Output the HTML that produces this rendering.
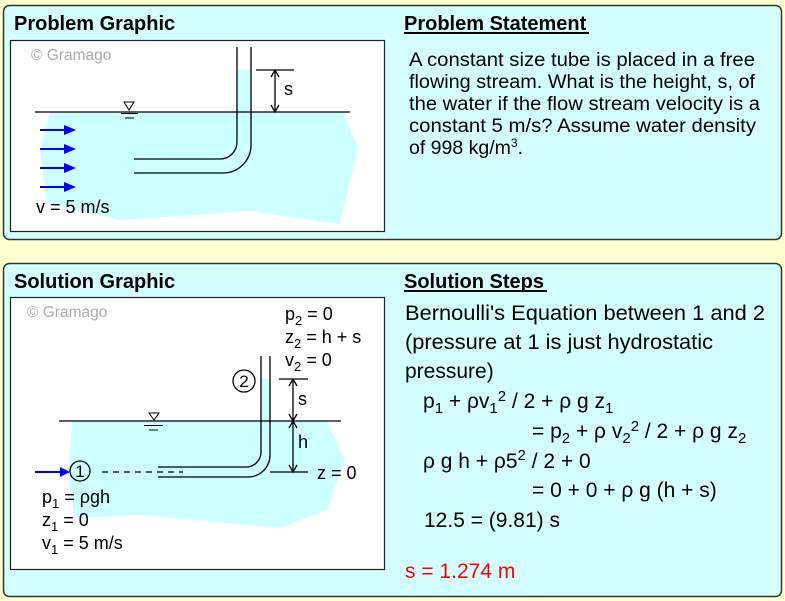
<!DOCTYPE html>
<html><head><meta charset="utf-8"><style>
body{margin:0;background:#ffffd0;}
svg{display:block;font-family:"Liberation Sans",sans-serif;}
</style></head><body>
<svg width="785" height="601" viewBox="0 0 785 601">
<rect x="0" y="0" width="785" height="601" fill="#ffffd0"/>
<rect x="3.5" y="5.5" width="778" height="234" rx="6" fill="#d4ffff" stroke="#333" stroke-width="1.5"/>
<rect x="3.5" y="263.5" width="778" height="333" rx="6" fill="#d4ffff" stroke="#333" stroke-width="1.5"/>
<text x="14" y="30" font-size="20" font-weight="bold">Problem Graphic</text>
<text x="404" y="30" font-size="20" font-weight="bold">Problem Statement</text>
<line x1="404" y1="33" x2="589" y2="33" stroke="#000" stroke-width="2"/>
<text x="14" y="288" font-size="20" font-weight="bold">Solution Graphic</text>
<text x="404" y="288" font-size="20" font-weight="bold">Solution Steps</text>
<line x1="404" y1="291" x2="547" y2="291" stroke="#000" stroke-width="2"/>

<!-- Problem graphic -->
<rect x="10.5" y="40.5" width="374" height="191" fill="#fff" stroke="#222" stroke-width="1.2"/>
<polygon points="50,112 343,112 358,148 340,224 250,211 120,220 47,204 40,150" fill="#ccffff"/>
<rect x="237" y="70" width="14" height="45" fill="#ccffff"/>
<text x="31" y="60" font-size="15.5" fill="#aaa">© Gramago</text>
<line x1="35" y1="112" x2="350" y2="112" stroke="#000" stroke-width="1.2"/>
<polygon points="124,102 134,102 129,110" fill="none" stroke="#000"/>
<line x1="121" y1="113.5" x2="138" y2="113.5" stroke="#000"/>
<line x1="125" y1="118" x2="134" y2="118" stroke="#000"/>
<path d="M237,47 V142 A17,17 0 0 1 220,159 H134" fill="none" stroke="#000" stroke-width="1.3"/>
<path d="M251,47 V145 A28,28 0 0 1 223,173 H134" fill="none" stroke="#000" stroke-width="1.3"/>
<line x1="256" y1="70" x2="294" y2="70" stroke="#000" stroke-width="1.3"/>
<line x1="275" y1="71" x2="275" y2="111" stroke="#000" stroke-width="1.3"/>
<path d="M271,77 L275,70 L279,77 M271,105 L275,112 L279,105" fill="none" stroke="#000" stroke-width="1.3"/>
<text x="284" y="95" font-size="18">s</text>
<g stroke="#00f" stroke-width="2" fill="#00f">
<line x1="40" y1="130" x2="66" y2="130"/><polygon points="64,125 76,130 64,135" stroke="none"/>
<line x1="40" y1="149" x2="66" y2="149"/><polygon points="64,144 76,149 64,154" stroke="none"/>
<line x1="40" y1="168" x2="66" y2="168"/><polygon points="64,163 76,168 64,173" stroke="none"/>
<line x1="40" y1="187" x2="66" y2="187"/><polygon points="64,182 76,187 64,192" stroke="none"/>
</g>
<text x="36" y="213" font-size="18">v = 5 m/s</text>

<!-- Problem statement -->
<g font-size="19">
<text x="409" y="66" textLength="346" lengthAdjust="spacingAndGlyphs">A constant size tube is placed in a free</text>
<text x="409" y="88" textLength="346" lengthAdjust="spacingAndGlyphs">flowing stream. What is the height, s, of</text>
<text x="409" y="110" textLength="351" lengthAdjust="spacingAndGlyphs">the water if the flow stream velocity is a</text>
<text x="409" y="132" textLength="347" lengthAdjust="spacingAndGlyphs">constant 5 m/s? Assume water density</text>
<text x="409" y="154" font-size="19.5">of 998 kg/m<tspan font-size="12" dy="-7">3</tspan><tspan dy="7">.</tspan></text>
</g>

<!-- Solution graphic -->
<rect x="10.5" y="297.5" width="374" height="272" fill="#fff" stroke="#222" stroke-width="1.2"/>
<polygon points="72,421 327,421 345,460 327,510 280,528 145,515 75,518 68,480" fill="#ccffff"/>
<rect x="261" y="379" width="9" height="45" fill="#ccffff"/>
<text x="27" y="317" font-size="15.5" fill="#aaa">© Gramago</text>
<line x1="59" y1="421" x2="341" y2="421" stroke="#000" stroke-width="1.2"/>
<polygon points="149,413 159,413 154,420" fill="none" stroke="#000"/>
<line x1="144" y1="425.5" x2="163" y2="425.5" stroke="#000"/>
<line x1="149" y1="430" x2="158" y2="430" stroke="#000"/>
<path d="M261,356 V452 A15,15 0 0 1 246,467 H158" fill="none" stroke="#000" stroke-width="1.3"/>
<path d="M270,356 V455 A22,22 0 0 1 248,477 H158" fill="none" stroke="#000" stroke-width="1.3"/>
<line x1="279" y1="379" x2="308" y2="379" stroke="#000" stroke-width="1.3"/>
<line x1="270" y1="472" x2="308" y2="472" stroke="#000" stroke-width="1.3"/>
<line x1="293" y1="380" x2="293" y2="471" stroke="#000" stroke-width="1.3"/>
<path d="M289,386 L293,379 L297,386 M289,414 L293,421 L297,414 M289,428 L293,421 L297,428 M289,465 L293,472 L297,465" fill="none" stroke="#000" stroke-width="1.3"/>
<text x="298" y="405" font-size="18">s</text>
<text x="298" y="448" font-size="18">h</text>
<text x="317" y="479" font-size="18">z = 0</text>
<line x1="102" y1="472" x2="183" y2="472" stroke="#000" stroke-width="1.3" stroke-dasharray="6,5"/>
<circle cx="80" cy="471" r="10" fill="none" stroke="#000" stroke-width="1.3"/>
<text x="80" y="477" font-size="17" text-anchor="middle">1</text>
<circle cx="244" cy="381" r="11" fill="none" stroke="#000" stroke-width="1.3"/>
<text x="244" y="387" font-size="17" text-anchor="middle">2</text>
<line x1="35" y1="472" x2="62" y2="472" stroke="#00f" stroke-width="2"/>
<polygon points="60,467 70,472 60,477" fill="#00f"/>
<g font-size="18">
<text x="285" y="320">p<tspan font-size="13" dy="5">2</tspan><tspan dy="-5"> = 0</tspan></text>
<text x="285" y="343">z<tspan font-size="13" dy="5">2</tspan><tspan dy="-5"> = h + s</tspan></text>
<text x="285" y="366">v<tspan font-size="13" dy="5">2</tspan><tspan dy="-5"> = 0</tspan></text>
<text x="42" y="503">p<tspan font-size="13" dy="5">1</tspan><tspan dy="-5"> = ρgh</tspan></text>
<text x="42" y="526">z<tspan font-size="13" dy="5">1</tspan><tspan dy="-5"> = 0</tspan></text>
<text x="42" y="549">v<tspan font-size="13" dy="5">1</tspan><tspan dy="-5"> = 5 m/s</tspan></text>
</g>

<!-- Solution steps -->
<g font-size="21">
<text x="405" y="320" textLength="360" lengthAdjust="spacingAndGlyphs">Bernoulli's Equation between 1 and 2</text>
<text x="405" y="349" textLength="308" lengthAdjust="spacingAndGlyphs">(pressure at 1 is just hydrostatic</text>
<text x="405" y="378">pressure)</text>
<text x="423" y="408">p<tspan font-size="15" dy="5">1</tspan><tspan dy="-5"> + ρv</tspan><tspan font-size="15" dy="5">1</tspan><tspan font-size="15" dy="-12">2</tspan><tspan dy="7"> / 2 + ρ g z</tspan><tspan font-size="15" dy="5">1</tspan></text>
<text x="532" y="438">= p<tspan font-size="15" dy="5">2</tspan><tspan dy="-5"> + ρ v</tspan><tspan font-size="15" dy="5">2</tspan><tspan font-size="15" dy="-12">2</tspan><tspan dy="7"> / 2 + ρ g z</tspan><tspan font-size="15" dy="5">2</tspan></text>
<text x="423" y="468">ρ g h + ρ5<tspan font-size="15" dy="-8">2</tspan><tspan dy="8"> / 2 + 0</tspan></text>
<text x="532" y="497">= 0 + 0 + ρ g (h + s)</text>
<text x="424" y="527">12.5 = (9.81) s</text>
<text x="405" y="578" fill="#f00">s = 1.274 m</text>
</g>
</svg>
</body></html>
